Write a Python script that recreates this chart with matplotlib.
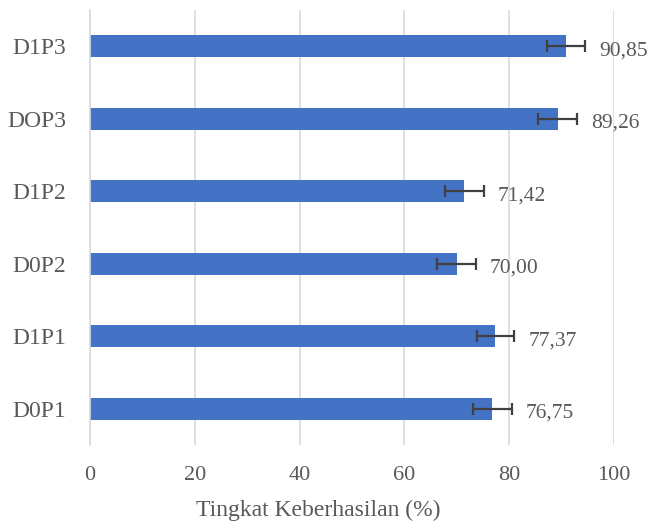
import matplotlib
matplotlib.use("Agg")
import matplotlib.pyplot as plt

categories = ["D0P1", "D1P1", "D0P2", "D1P2", "DOP3", "D1P3"]
values = [76.75, 77.37, 70.00, 71.42, 89.26, 90.85]
errors = [3.7, 3.5, 3.7, 3.7, 3.7, 3.6]
labels = ["76,75", "77,37", "70,00", "71,42", "89,26", "90,85"]
xticks = [0, 20, 40, 60, 80, 100]

txt = "#595959"
plt.rcParams['font.family'] = ['Liberation Serif', 'DejaVu Serif']

fig = plt.figure(figsize=(6.49, 5.21), dpi=100)
ax = fig.add_axes([90/649, 1-445/521, 524/649, 435/521])

y = list(range(len(categories)))
ax.barh(y, values, height=0.3, color="#4472C4", zorder=2,
        xerr=errors, error_kw=dict(ecolor="#404040", elinewidth=1.6, capsize=4.5, capthick=1.6, zorder=3))

for yi, v, lab in zip(y, values, labels):
    ax.text(v + 6.3, yi - 0.06, lab, va="center", ha="left", fontsize=15.5, color=txt)

ax.set_xlim(0, 100)
ax.set_ylim(-0.5, 5.5)
ax.set_yticks(y)
ax.set_yticklabels(categories)
ax.set_xticks(xticks)
ax.tick_params(axis="both", length=0, labelcolor=txt)
ax.tick_params(axis="x", pad=15, labelsize=16)
ax.tick_params(axis="y", pad=17, labelsize=17)
ax.grid(axis="x", color="#d9d9d9", linewidth=1.2, zorder=0)
for s in ["top", "right", "bottom"]:
    ax.spines[s].set_visible(False)
ax.spines["left"].set_color("#d9d9d9")
ax.spines["left"].set_linewidth(1.2)

ax.set_xlabel("Tingkat Keberhasilan (%)", fontsize=17, color=txt)
ax.xaxis.set_label_coords(0.435, -0.15)
ax.xaxis.label.set_va("center")

fig.savefig("out.png", dpi=100)
